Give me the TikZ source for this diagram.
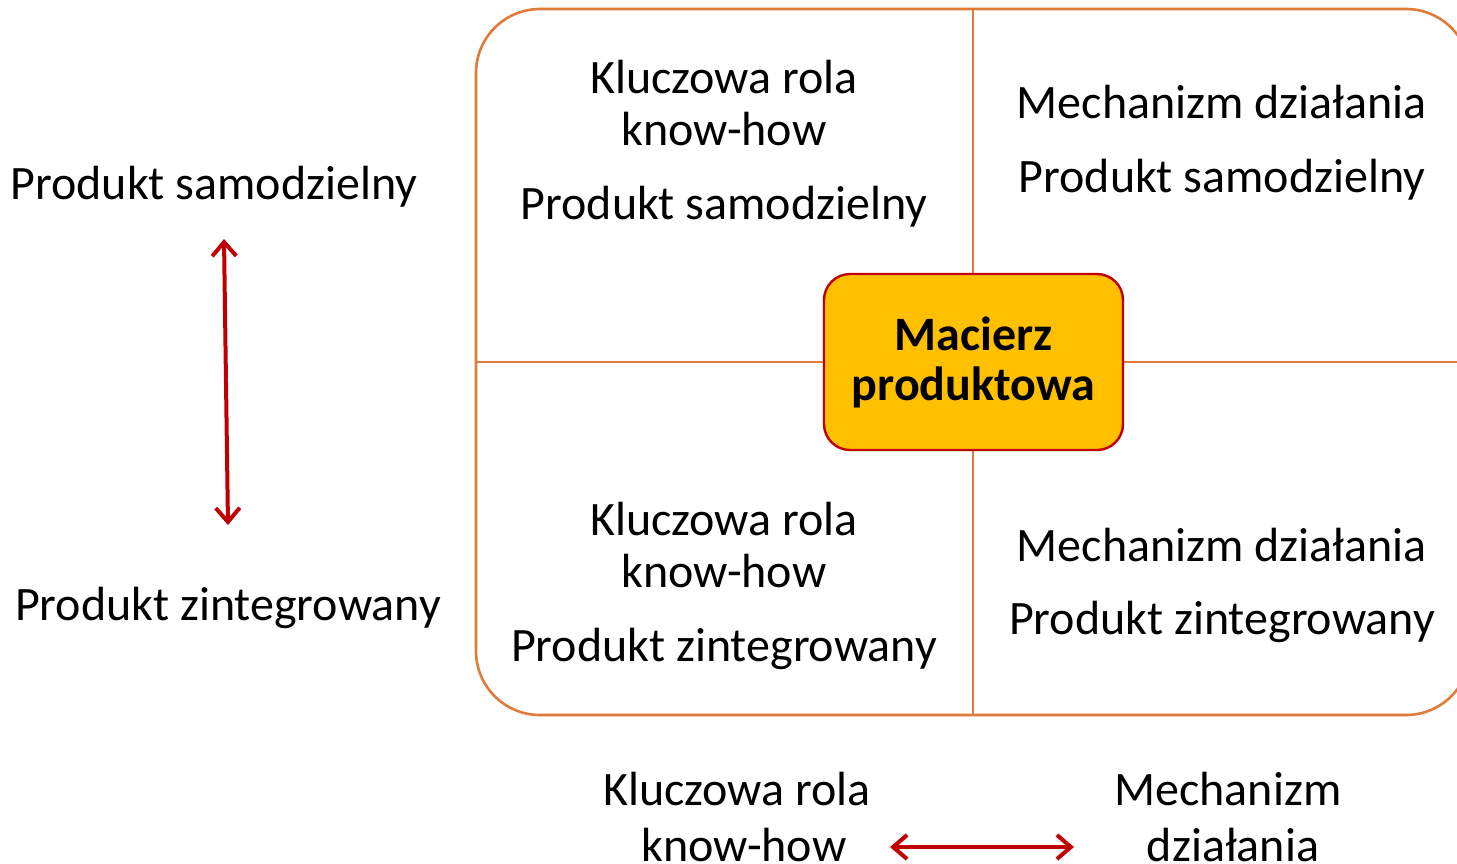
\documentclass[tikz,border=0pt]{standalone}
\usepackage{fontspec}
\setmainfont{Carlito}
\usetikzlibrary{arrows.meta}
\definecolor{frameorange}{HTML}{E07B39}
\definecolor{boxred}{HTML}{C00000}
\definecolor{boxgold}{HTML}{FFC000}
\tikzset{
  txt/.style={font=\fontsize{48}{52}\selectfont, anchor=base, inner sep=0pt},
  boldtxt/.style={font=\fontsize{48}{50}\selectfont\bfseries, anchor=base, inner sep=0pt},
  divider/.style={draw=frameorange, line width=2.6pt},
  twoway/.style={draw=boxred, line width=4pt,
    {Straight Barb[length=14pt,width=24pt,line width=4pt]}-{Straight Barb[length=14pt,width=24pt,line width=4pt]}},
}
\begin{document}
\begin{tikzpicture}[x=1pt,y=-1pt]
\useasboundingbox (0,0) rectangle (1457,863);
\clip (0,0) rectangle (1457,863);

% outer frame of the matrix and its dividers
\draw[divider, rounded corners=64pt] (476,9) rectangle (1470,715);
\draw[divider] (973,9) -- (973,715);
\draw[divider] (476,362) -- (1470,362);

% centre label
\node[draw=boxred, fill=boxgold, line width=2.4pt, rounded corners=26pt,
      minimum width=299pt, minimum height=176pt, inner sep=0pt] (core) at (973.5,362) {};
\node[boldtxt] (coreA) at (973.5,350) {Macierz};
\node[boldtxt] (coreB) at (973.5,400) {produktowa};

% upper-left quadrant
\node[txt] (qa1) at (724,93) {Kluczowa rola};
\node[txt] (qa2) at (724,145) {know-how};
\node[txt] (qa3) at (724,219) {Produkt samodzielny};

% upper-right quadrant
\node[txt] (qb1) at (1222,118) {Mechanizm działania};
\node[txt] (qb2) at (1222,192) {Produkt samodzielny};

% lower-left quadrant
\node[txt] (qc1) at (724,535) {Kluczowa rola};
\node[txt] (qc2) at (724,587) {know-how};
\node[txt] (qc3) at (724,661) {Produkt zintegrowany};

% lower-right quadrant
\node[txt] (qd1) at (1222,561) {Mechanizm działania};
\node[txt] (qd2) at (1222,634) {Produkt zintegrowany};

% vertical axis
\node[txt] (ytop) at (214,199) {Produkt samodzielny};
\node[txt] (ybot) at (228,620) {Produkt zintegrowany};
\coordinate (yA) at (224,239);
\coordinate (yB) at (228,525);
\draw[twoway] (yA) -- (yB);

% horizontal axis
\node[txt] (xl1) at (737,805) {Kluczowa rola};
\node[txt] (xl2) at (744,861) {know-how};
\node[txt] (xr1) at (1228,805) {Mechanizm};
\node[txt] (xr2) at (1233,861) {działania};
\coordinate (xA) at (890,847);
\coordinate (xB) at (1074,847);
\draw[twoway] (xA) -- (xB);
\end{tikzpicture}
\end{document}
